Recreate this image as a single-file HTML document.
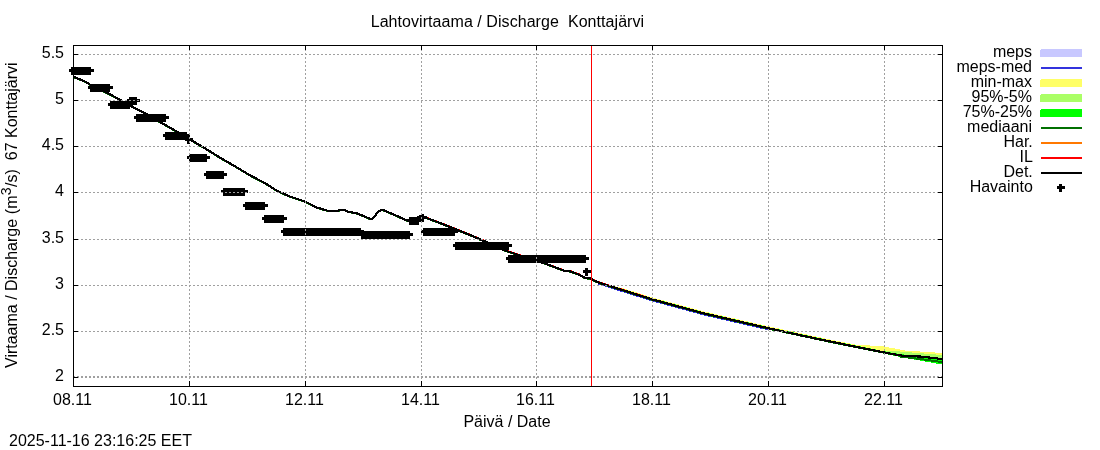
<!DOCTYPE html>
<html><head><meta charset="utf-8"><title>Lahtovirtaama / Discharge Konttajärvi</title>
<style>
html,body{margin:0;padding:0;background:#fff;}
svg{display:block;font-family:"Liberation Sans",Arial,sans-serif;font-size:16px;fill:#000;}
</style></head><body>
<svg width="1100" height="450" viewBox="0 0 1100 450">
<rect width="1100" height="450" fill="#fff"/>

<g shape-rendering="crispEdges">
<polygon fill="#ffff66" points="608.0,284.5 625.0,288.8 652.0,297.3 704.4,311.5 769.0,326.4 820.0,337.4 840.0,341.5 855.0,344.5 884.0,346.5 905.0,350.5 942.0,353.0 942.0,360.0 920.0,357.5 905.0,357.2 884.4,353.5 840.0,344.5 820.0,340.4 769.0,329.4 704.4,314.5 652.0,300.3 608.0,286.5"/>
<polygon fill="#aaff66" points="884,351 900,351.5 942,355 942,364 900,357 884,353.5"/>
<polygon fill="#00ff00" points="650.0,297.5 652.0,298.1 704.4,312.3 769.0,327.2 820.0,338.2 840.0,342.3 884.4,351.3 900.0,354.1 942.0,358.0 942.0,364.5 905.0,357.8 884.0,353.7 840.0,344.8 820.0,340.7 769.0,329.7 704.4,314.8 652.0,300.6 650.0,300.0"/>
</g>
<g shape-rendering="crispEdges" fill="none" stroke-width="1.7" stroke-linejoin="round">
<polyline stroke="#3333dd" points="598.0,283.4 600.0,284.2 652.0,300.5 704.4,314.7 768.0,329.4"/>
<polyline stroke="#007000" stroke-width="2" points="900.0,356.5 920.0,359.0 942.0,362.0"/>
<polyline stroke="#007000" points="73.0,77.0 85.0,82.0 90.0,85.0 110.0,94.8 120.6,100.7 130.0,106.1 144.0,113.2 160.0,122.5 175.0,131.0 190.0,140.0 204.5,148.5 220.0,158.1 235.0,166.8 250.0,175.8 265.4,183.8 276.7,191.1 289.7,196.9 305.5,202.2 316.7,208.0 324.4,210.2 329.0,211.6 337.0,211.6 340.5,210.2 344.0,210.2 348.0,212.2 356.7,213.7 369.0,218.8 372.2,219.5 375.6,215.5 378.3,211.8 382.0,210.3 385.0,211.3 395.0,215.5 408.0,221.5 414.0,219.5 421.0,216.5 424.0,217.5 432.0,220.5 440.0,223.5 470.0,235.5 490.0,244.1 505.0,251.0 520.0,256.0 545.0,264.0 565.0,271.5 570.0,271.7 580.0,275.5 585.0,278.5 590.0,278.9 595.0,281.5 600.0,283.5 652.0,299.8 704.4,314.0 769.0,328.9 820.0,339.9 840.0,344.0 884.4,353.0 900.0,355.8 920.0,359.0 942.0,362.0"/>
<polyline stroke="#ff0000" points="421.0,215.6 424.0,216.6 432.0,219.6 440.0,222.6 470.0,234.6 490.0,243.2 505.0,250.1 520.0,255.1 545.0,263.1 565.0,270.6 570.0,270.8 580.0,274.6 585.0,277.6 590.0,278.0 595.0,280.6 600.0,282.6 652.0,298.9"/>
<polyline stroke="#000" stroke-width="2.15" points="73.0,76.5 85.0,81.5 90.0,84.5 110.0,94.3 120.6,100.2 130.0,105.6 144.0,112.7 160.0,122.0 175.0,130.5 190.0,139.5 204.5,148.0 220.0,157.6 235.0,166.3 250.0,175.3 265.4,183.3 276.7,190.6 289.7,196.4 305.5,201.7 316.7,207.5 324.4,209.7 329.0,211.1 337.0,211.1 340.5,209.7 344.0,209.7 348.0,211.7 356.7,213.2 369.0,218.3 372.2,219.0 375.6,215.0 378.3,211.3 382.0,209.8 385.0,210.8 395.0,215.0 408.0,221.0 414.0,219.0 421.0,216.0 424.0,217.0 432.0,220.0 440.0,223.0 470.0,235.0 490.0,243.6 505.0,250.5 520.0,255.5 545.0,263.5 565.0,271.0 570.0,271.2 580.0,275.0 585.0,278.0 590.0,278.4 595.0,281.0 600.0,283.0 652.0,299.3 704.4,313.5 769.0,328.4 820.0,339.4 840.0,343.5 884.4,352.5 905.0,356.2 920.0,356.5 942.0,359.0"/>
<polyline stroke="#000" stroke-width="2" points="640.0,295.5 652.0,299.3 704.4,313.5 769.0,328.4 820.0,339.4 840.0,343.5 884.4,352.5 905.0,356.2 920.0,356.5 942.0,359.0"/>
</g>
<g shape-rendering="crispEdges" fill="#000">
<rect x="71" y="67" width="20" height="8"/><rect x="69" y="69" width="25" height="3"/>
<rect x="90" y="84" width="20" height="8"/><rect x="88" y="86" width="25" height="3"/>
<rect x="110" y="101" width="20" height="8"/><rect x="108" y="103" width="25" height="3"/>
<rect x="129" y="97" width="8" height="8"/><rect x="127" y="99" width="13" height="3"/>
<rect x="136" y="114" width="30" height="8"/><rect x="134" y="116" width="35" height="3"/>
<rect x="165" y="132" width="22" height="8"/><rect x="163" y="134" width="27" height="3"/>
<rect x="187" y="136" width="3" height="8"/><rect x="185" y="138" width="8" height="3"/>
<rect x="189" y="154" width="18" height="8"/><rect x="187" y="156" width="23" height="3"/>
<rect x="206" y="171" width="18" height="8"/><rect x="204" y="173" width="23" height="3"/>
<rect x="223" y="188" width="22" height="8"/><rect x="221" y="190" width="27" height="3"/>
<rect x="245" y="202" width="20" height="8"/><rect x="243" y="204" width="25" height="3"/>
<rect x="264" y="215" width="20" height="8"/><rect x="262" y="217" width="25" height="3"/>
<rect x="283" y="228" width="78" height="8"/><rect x="281" y="230" width="83" height="3"/>
<rect x="361" y="231" width="49" height="8"/><rect x="359" y="233" width="54" height="3"/>
<rect x="409" y="217" width="10" height="8"/><rect x="407" y="219" width="15" height="3"/>
<rect x="421" y="214" width="3" height="8"/><rect x="419" y="216" width="8" height="3"/>
<rect x="423" y="228" width="32" height="8"/><rect x="421" y="230" width="37" height="3"/>
<rect x="455" y="242" width="54" height="8"/><rect x="453" y="244" width="59" height="3"/>
<rect x="508" y="255" width="78" height="8"/><rect x="506" y="257" width="83" height="3"/>
<rect x="585" y="268" width="3" height="8"/><rect x="583" y="270" width="8" height="3"/>
</g>
<g shape-rendering="crispEdges" stroke="#a0a0a0" stroke-width="1" stroke-dasharray="2,2" fill="none">
<line x1="73" y1="377.5" x2="942" y2="377.5"/>
<line x1="73" y1="376.5" x2="942" y2="376.5"/>
<line x1="73" y1="331.5" x2="942" y2="331.5"/>
<line x1="73" y1="285.5" x2="942" y2="285.5"/>
<line x1="73" y1="239.5" x2="942" y2="239.5"/>
<line x1="73" y1="192.5" x2="942" y2="192.5"/>
<line x1="73" y1="146.5" x2="942" y2="146.5"/>
<line x1="73" y1="100.5" x2="942" y2="100.5"/>
<line x1="73" y1="54.5" x2="942" y2="54.5"/>
<line x1="189.5" y1="45" x2="189.5" y2="386"/>
<line x1="305.5" y1="45" x2="305.5" y2="386"/>
<line x1="421.5" y1="45" x2="421.5" y2="386"/>
<line x1="536.5" y1="45" x2="536.5" y2="386"/>
<line x1="652.5" y1="45" x2="652.5" y2="386"/>
<line x1="768.5" y1="45" x2="768.5" y2="386"/>
<line x1="884.5" y1="45" x2="884.5" y2="386"/>
</g>
<g shape-rendering="crispEdges"><line x1="591.5" y1="45" x2="591.5" y2="386" stroke="#ff0000" stroke-width="1"/></g>
<g shape-rendering="crispEdges" stroke="#000" stroke-width="1" fill="none">
<rect x="73.5" y="45.5" width="869" height="341"/>
<line x1="73" y1="377.5" x2="78" y2="377.5"/><line x1="938" y1="377.5" x2="943" y2="377.5"/>
<line x1="73" y1="331.5" x2="78" y2="331.5"/><line x1="938" y1="331.5" x2="943" y2="331.5"/>
<line x1="73" y1="285.5" x2="78" y2="285.5"/><line x1="938" y1="285.5" x2="943" y2="285.5"/>
<line x1="73" y1="239.5" x2="78" y2="239.5"/><line x1="938" y1="239.5" x2="943" y2="239.5"/>
<line x1="73" y1="192.5" x2="78" y2="192.5"/><line x1="938" y1="192.5" x2="943" y2="192.5"/>
<line x1="73" y1="146.5" x2="78" y2="146.5"/><line x1="938" y1="146.5" x2="943" y2="146.5"/>
<line x1="73" y1="100.5" x2="78" y2="100.5"/><line x1="938" y1="100.5" x2="943" y2="100.5"/>
<line x1="73" y1="54.5" x2="78" y2="54.5"/><line x1="938" y1="54.5" x2="943" y2="54.5"/>
<line x1="73.5" y1="386" x2="73.5" y2="381"/><line x1="73.5" y1="45" x2="73.5" y2="50"/>
<line x1="189.5" y1="386" x2="189.5" y2="381"/><line x1="189.5" y1="45" x2="189.5" y2="50"/>
<line x1="305.5" y1="386" x2="305.5" y2="381"/><line x1="305.5" y1="45" x2="305.5" y2="50"/>
<line x1="421.5" y1="386" x2="421.5" y2="381"/><line x1="421.5" y1="45" x2="421.5" y2="50"/>
<line x1="536.5" y1="386" x2="536.5" y2="381"/><line x1="536.5" y1="45" x2="536.5" y2="50"/>
<line x1="652.5" y1="386" x2="652.5" y2="381"/><line x1="652.5" y1="45" x2="652.5" y2="50"/>
<line x1="768.5" y1="386" x2="768.5" y2="381"/><line x1="768.5" y1="45" x2="768.5" y2="50"/>
<line x1="884.5" y1="386" x2="884.5" y2="381"/><line x1="884.5" y1="45" x2="884.5" y2="50"/>
</g>
<g text-anchor="end">
<text x="64" y="380.7">2</text>
<text x="64" y="334.7">2.5</text>
<text x="64" y="288.7">3</text>
<text x="64" y="242.7">3.5</text>
<text x="64" y="195.7">4</text>
<text x="64" y="149.7">4.5</text>
<text x="64" y="103.7">5</text>
<text x="64" y="57.7">5.5</text>
</g><g text-anchor="middle">
<text x="72.5" y="405">08.11</text>
<text x="188.5" y="405">10.11</text>
<text x="304.5" y="405">12.11</text>
<text x="420.5" y="405">14.11</text>
<text x="535.5" y="405">16.11</text>
<text x="651.5" y="405">18.11</text>
<text x="767.5" y="405">20.11</text>
<text x="883.5" y="405">22.11</text>
<text x="507" y="427">Päivä / Date</text>
<text x="507.4" y="27" textLength="273.4" lengthAdjust="spacing" xml:space="preserve">Lahtovirtaama / Discharge  Konttajärvi</text>
</g>
<text x="9" y="446">2025-11-16 23:16:25 EET</text>
<text transform="translate(17,368) rotate(-90)" text-anchor="start">Virtaama / Discharge</text>
<text transform="translate(17,62.4) rotate(-90)" text-anchor="end" xml:space="preserve">(m<tspan font-size="14" dy="-6" dx="0.3">3</tspan><tspan dy="6" dx="0.5">/s)  67 Konttajärvi</tspan></text>
<g text-anchor="end">
<text x="1032" y="56.7">meps</text>
<text x="1032" y="71.7">meps-med</text>
<text x="1032" y="86.7">min-max</text>
<text x="1032" y="101.7">95%-5%</text>
<text x="1032" y="116.7">75%-25%</text>
<text x="1032" y="131.7">mediaani</text>
<text x="1032.8" y="146.7">Har.</text>
<text x="1032.8" y="161.7">IL</text>
<text x="1032.8" y="176.7">Det.</text>
<text x="1032.8" y="191.7">Havainto</text>
</g><g shape-rendering="crispEdges">
<rect x="1040" y="49" width="42" height="8" fill="#c8c8ff"/><rect x="1040" y="49" width="1" height="1" fill="#fff"/>
<rect x="1040" y="79" width="42" height="8" fill="#ffff66"/><rect x="1040" y="79" width="1" height="1" fill="#fff"/>
<rect x="1040" y="94" width="42" height="8" fill="#aaff66"/><rect x="1040" y="94" width="1" height="1" fill="#fff"/>
<rect x="1040" y="109" width="42" height="8" fill="#00ff00"/><rect x="1040" y="109" width="1" height="1" fill="#fff"/>
<rect x="1041" y="67" width="41" height="2" fill="#3333dd"/>
<rect x="1041" y="127" width="41" height="2" fill="#007000"/>
<rect x="1041" y="142" width="41" height="2" fill="#ff7800"/>
<rect x="1041" y="157" width="41" height="2" fill="#ff0000"/>
<rect x="1041" y="172" width="41" height="2" fill="#000000"/>
<rect x="1059" y="184" width="3" height="8" fill="#000"/><rect x="1057" y="186" width="8" height="3" fill="#000"/>
</g>
</svg></body></html>
